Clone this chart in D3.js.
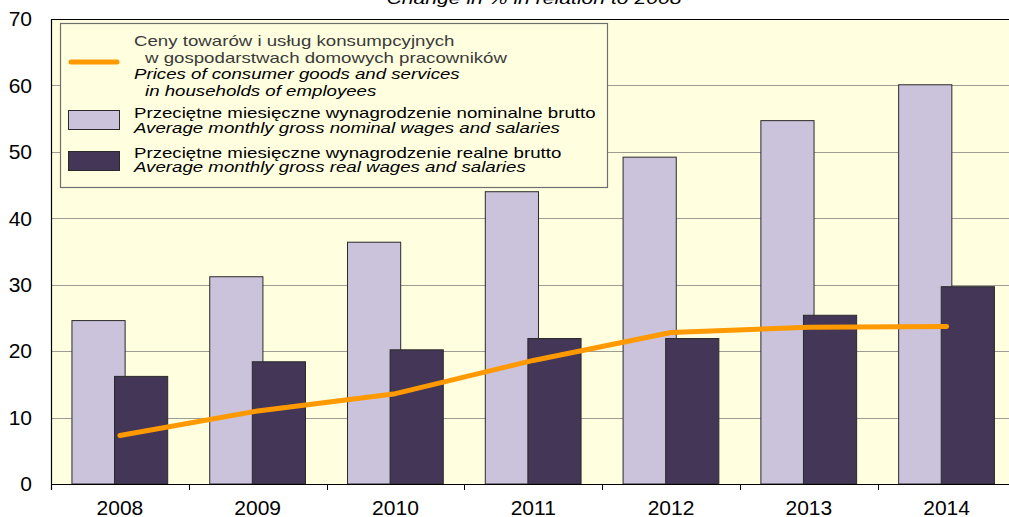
<!DOCTYPE html>
<html>
<head>
<meta charset="utf-8">
<script src="https://cdn.jsdelivr.net/npm/d3@7"></script>
<style>
  html, body { margin: 0; padding: 0; background: #ffffff; }
  svg { display: block; font-family: "Liberation Sans", Arial, sans-serif; }
</style>
</head>
<body>
<svg id="chart" width="1009" height="517"></svg>
<script>
// Wage and price indices, change in % in relation to 2005
const years = ["2008", "2009", "2010", "2011", "2012", "2013", "2014"];
const nominalWages = [24.6, 31.2, 36.4, 44.0, 49.2, 54.7, 60.1];
const realWages = [16.2, 18.4, 20.2, 21.9, 21.9, 25.4, 29.7];
const consumerPrices = [7.3, 11.0, 13.6, 18.6, 22.8, 23.6, 23.7];
const yTicks = [0, 10, 20, 30, 40, 50, 60, 70];

const titleText = "Change in % in relation to 2008";
const legendPriceLines = [
  { text: "Ceny towarów i usług konsumpcyjnych", italic: false, indent: false },
  { text: "w gospodarstwach domowych pracowników", italic: false, indent: true },
  { text: "Prices of consumer goods and services", italic: true, indent: false },
  { text: "in households of employees", italic: true, indent: true }
];
const legendNominalLines = [
  { text: "Przeciętne miesięczne wynagrodzenie nominalne brutto", italic: false },
  { text: "Average monthly gross nominal wages and salaries", italic: true }
];
const legendRealLines = [
  { text: "Przeciętne miesięczne wynagrodzenie realne brutto", italic: false },
  { text: "Average monthly gross real wages and salaries", italic: true }
];

const colors = {
  plotBg: "#FFFFE0",
  nominal: "#CBC2DB",
  real: "#443656",
  price: "#FF9900",
  grid: "#9c9c94",
  barStroke: "#2a2a2a"
};

const svg = d3.select("#chart");
const plot = { left: 51, right: 1015.5, top: 19, bottom: 484 };

const x = d3.scaleBand().domain(years).range([plot.left, plot.right]).padding(0);
const y = d3.scaleLinear().domain([0, 70]).range([plot.bottom, plot.top]);
const bw = x.bandwidth();
const barW = bw * 0.386;
const nominalOffset = bw * 0.152;
const realOffset = bw * 0.461;

// plot background
svg.append("rect")
  .attr("x", plot.left).attr("y", plot.top)
  .attr("width", plot.right - plot.left).attr("height", plot.bottom - plot.top)
  .attr("fill", colors.plotBg);

// horizontal gridlines
svg.append("g").selectAll("line").data(yTicks.filter(d => d > 0 && d < 70)).join("line")
  .attr("x1", plot.left).attr("x2", plot.right)
  .attr("y1", d => Math.round(y(d)) + 0.5).attr("y2", d => Math.round(y(d)) + 0.5)
  .attr("stroke", colors.grid).attr("stroke-width", 1.2);

// nominal wages bars (behind)
svg.append("g").selectAll("rect").data(years).join("rect")
  .attr("x", (d) => x(d) + nominalOffset)
  .attr("y", (d, i) => y(nominalWages[i]))
  .attr("width", barW)
  .attr("height", (d, i) => y(0) - y(nominalWages[i]))
  .attr("fill", colors.nominal)
  .attr("stroke", colors.barStroke).attr("stroke-width", 1);

// real wages bars (front)
svg.append("g").selectAll("rect").data(years).join("rect")
  .attr("x", (d) => x(d) + realOffset)
  .attr("y", (d, i) => y(realWages[i]))
  .attr("width", barW)
  .attr("height", (d, i) => y(0) - y(realWages[i]))
  .attr("fill", colors.real)
  .attr("stroke", colors.barStroke).attr("stroke-width", 1);

// consumer prices line
const line = d3.line()
  .x((d, i) => x(years[i]) + bw / 2)
  .y(d => y(d));
svg.append("path")
  .datum(consumerPrices)
  .attr("d", line)
  .attr("fill", "none")
  .attr("stroke", colors.price)
  .attr("stroke-width", 5)
  .attr("stroke-linecap", "round")
  .attr("stroke-linejoin", "round");

// frame: top border, y axis, x axis
svg.append("line")
  .attr("x1", plot.left).attr("x2", plot.right)
  .attr("y1", plot.top + 0.5).attr("y2", plot.top + 0.5)
  .attr("stroke", "#000").attr("stroke-width", 1.2);

const xAxis = d3.axisBottom(x).tickSize(0).tickPadding(0);
const gx = svg.append("g").attr("transform", `translate(0,${plot.bottom})`).call(xAxis);
gx.select(".domain").remove();
gx.selectAll(".tick text")
  .attr("y", 31)
  .attr("dy", 0)
  .attr("font-size", 21)
  .attr("font-family", "Liberation Sans, Arial, sans-serif")
  .attr("fill", "#000");
svg.append("line")
  .attr("x1", plot.left).attr("x2", plot.right)
  .attr("y1", plot.bottom + 0.5).attr("y2", plot.bottom + 0.5)
  .attr("stroke", "#000").attr("stroke-width", 1.2);
// category boundary ticks
svg.append("g").selectAll("line").data(years).join("line")
  .attr("x1", d => Math.round(x(d)) + 0.5).attr("x2", d => Math.round(x(d)) + 0.5)
  .attr("y1", plot.bottom).attr("y2", plot.bottom + 6)
  .attr("stroke", "#000").attr("stroke-width", 1);

const yAxis = d3.axisLeft(y).tickValues(yTicks).tickSize(0).tickPadding(19);
const gy = svg.append("g").attr("transform", `translate(${plot.left},0)`).call(yAxis);
gy.select(".domain").remove();
gy.selectAll(".tick text")
  .attr("font-size", 21)
  .attr("font-family", "Liberation Sans, Arial, sans-serif")
  .attr("fill", "#000");
svg.append("line")
  .attr("x1", plot.left + 0.5).attr("x2", plot.left + 0.5)
  .attr("y1", plot.top).attr("y2", plot.bottom + 6)
  .attr("stroke", "#000").attr("stroke-width", 1.2);

// title (partly above the visible area)
const stretch = 1.244;
const title = svg.append("text")
  .attr("x", 534).attr("y", 4)
  .attr("text-anchor", "middle")
  .attr("font-size", 17)
  .attr("font-style", "italic")
  .attr("fill", "#000")
  .text(titleText);
title.attr("textLength", title.node().getComputedTextLength() * stretch)
  .attr("lengthAdjust", "spacingAndGlyphs");

// legend
const lg = svg.append("g");
lg.append("rect")
  .attr("x", 60.5).attr("y", 23.5).attr("width", 547).attr("height", 164)
  .attr("fill", colors.plotBg).attr("stroke", "#6e6e6e").attr("stroke-width", 1.2);

lg.append("line")
  .attr("x1", 71).attr("x2", 117).attr("y1", 62).attr("y2", 62)
  .attr("stroke", colors.price).attr("stroke-width", 5).attr("stroke-linecap", "round");
lg.append("rect")
  .attr("x", 68.5).attr("y", 110.5).attr("width", 51).attr("height", 19)
  .attr("fill", colors.nominal).attr("stroke", colors.barStroke).attr("stroke-width", 1);
lg.append("rect")
  .attr("x", 68.5).attr("y", 151.5).attr("width", 51).attr("height", 19)
  .attr("fill", colors.real).attr("stroke", colors.barStroke).attr("stroke-width", 1);

function legendText(lines, baselines, color) {
  lines.forEach((ln, i) => {
    const t = lg.append("text")
      .attr("x", ln.indent ? 145 : 134)
      .attr("y", baselines[i])
      .attr("font-size", 15)
      .attr("font-style", ln.italic ? "italic" : "normal")
      .attr("fill", ln.italic ? "#000" : color)
      .text(ln.text);
    t.attr("textLength", t.node().getComputedTextLength() * stretch)
      .attr("lengthAdjust", "spacingAndGlyphs");
  });
}
legendText(legendPriceLines, [46, 62.5, 79, 95.5], "#3a3a3a");
legendText(legendNominalLines, [117.5, 132.5], "#000");
legendText(legendRealLines, [157.5, 172], "#000");
</script>
</body>
</html>
